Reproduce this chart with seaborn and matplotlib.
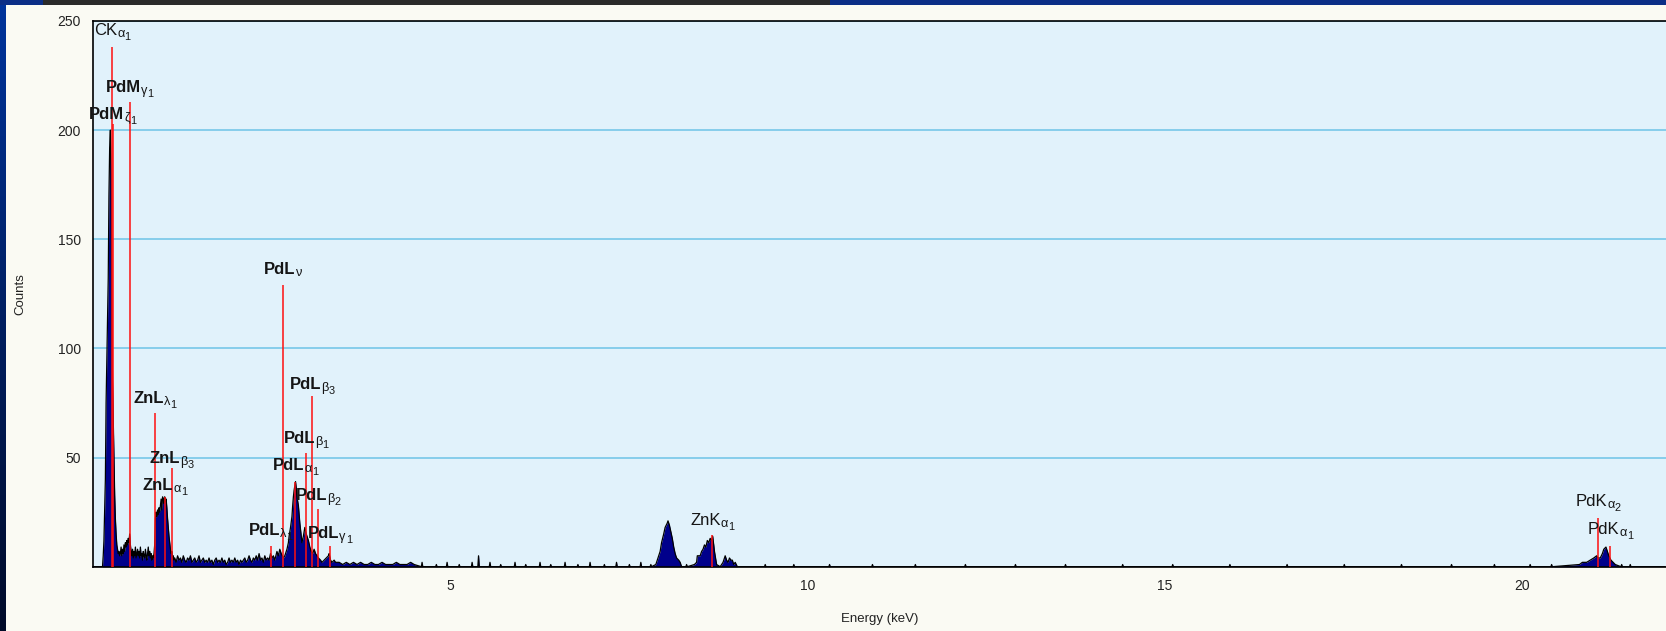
import numpy as np
import pandas as pd
import matplotlib
matplotlib.use("Agg")
import matplotlib.pyplot as plt
from matplotlib.patches import Rectangle
from matplotlib.transforms import offset_copy
from matplotlib.colors import LinearSegmentedColormap
import seaborn as sns

sns.set_style("white")
plt.rcParams["font.family"] = ["Liberation Sans", "DejaVu Sans"]

# ---------------- spectrum ----------------
energy_kev = [
    0.00, 0.14, 0.15, 0.16, 0.17, 0.18, 0.19, 0.20, 0.21, 0.22, 0.23, 0.24, 0.25, 0.26, 0.27,
    0.28, 0.29, 0.30, 0.31, 0.32, 0.33, 0.34, 0.35, 0.36, 0.37, 0.38,
    0.39, 0.40, 0.41, 0.42, 0.43, 0.44, 0.45, 0.46, 0.47, 0.48, 0.49, 0.50, 0.51, 0.52, 0.53,
    0.54, 0.55, 0.56, 0.57, 0.58, 0.59, 0.60, 0.61, 0.62, 0.63, 0.64, 0.65, 0.66, 0.67, 0.68,
    0.69, 0.70, 0.71, 0.72, 0.73, 0.74, 0.75, 0.76, 0.77, 0.78, 0.79, 0.80, 0.81, 0.82, 0.83,
    0.84, 0.85, 0.86,
    0.87, 0.88, 0.89, 0.90, 0.91, 0.92, 0.93, 0.94, 0.95, 0.96, 0.97, 0.98, 0.99, 1.00, 1.01,
    1.02, 1.03, 1.04, 1.05, 1.06, 1.07, 1.08, 1.09, 1.10, 1.11, 1.12, 1.13, 1.14,
    1.15, 1.17, 1.19, 1.21, 1.23, 1.25, 1.27, 1.29, 1.31, 1.33, 1.35, 1.37, 1.39, 1.41, 1.43,
    1.45, 1.47, 1.49, 1.51, 1.53, 1.55, 1.57, 1.59, 1.61, 1.63, 1.65, 1.67, 1.69, 1.71, 1.73,
    1.75, 1.77, 1.79, 1.81, 1.83, 1.85, 1.87, 1.89, 1.91, 1.93, 1.95, 1.97, 1.99, 2.01, 2.03,
    2.05, 2.07, 2.09, 2.11, 2.13, 2.15, 2.17, 2.19, 2.21, 2.23, 2.25, 2.27, 2.29, 2.31, 2.33,
    2.35, 2.37, 2.39, 2.41, 2.43, 2.45,
    2.47, 2.49, 2.51, 2.53, 2.55, 2.58, 2.60, 2.62, 2.64, 2.67, 2.69, 2.72, 2.74, 2.75, 2.77,
    2.79, 2.80, 2.81, 2.82, 2.84, 2.85, 2.86, 2.87, 2.88, 2.89, 2.90, 2.92, 2.93, 2.95, 2.97,
    2.99, 3.01, 3.02, 3.04, 3.06, 3.08, 3.10, 3.12, 3.14, 3.16, 3.19, 3.21, 3.24, 3.27, 3.30,
    3.31, 3.33, 3.35, 3.38, 3.40,
    3.45, 3.50, 3.55, 3.60, 3.65, 3.70, 3.75, 3.80, 3.85, 3.90, 3.95, 4.00, 4.05, 4.10, 4.15,
    4.20, 4.25, 4.30, 4.35, 4.40, 4.45, 4.50,
    4.60, 4.61, 4.62, 4.80, 4.81, 4.82, 4.95, 4.96, 4.97, 5.12, 5.13, 5.14, 5.30, 5.31, 5.32,
    5.39, 5.40, 5.41, 5.55, 5.56, 5.57, 5.70, 5.71, 5.72, 5.90, 5.91, 5.92, 6.05, 6.06, 6.07,
    6.25, 6.26, 6.27, 6.40, 6.41, 6.42, 6.60, 6.61, 6.62, 6.78, 6.79, 6.80, 6.95, 6.96, 6.97,
    7.15, 7.16, 7.17, 7.32, 7.33, 7.34, 7.50, 7.51, 7.52, 7.66, 7.67, 7.68, 7.80, 7.81, 7.82,
    7.88, 7.91, 7.94, 7.96, 7.99, 8.01, 8.04, 8.05, 8.07, 8.09, 8.11, 8.13, 8.15, 8.17, 8.20,
    8.22, 8.24, 8.30, 8.31, 8.32, 8.42, 8.45, 8.46, 8.50, 8.52, 8.54, 8.56, 8.58, 8.60, 8.62,
    8.64, 8.66, 8.675, 8.69, 8.70, 8.72, 8.73, 8.78, 8.82, 8.85, 8.87, 8.89, 8.91, 8.93, 8.95,
    8.97, 8.99, 9.02,
    9.40, 9.41, 9.42, 9.80, 9.81, 9.82, 10.30, 10.31, 10.32, 10.90, 10.91, 10.92,
    11.50, 11.51, 11.52, 12.20, 12.21, 12.22, 12.90, 12.91, 12.92, 13.60, 13.61, 13.62,
    14.40, 14.41, 14.42, 15.10, 15.11, 15.12, 15.90, 15.91, 15.92, 16.70, 16.71, 16.72,
    17.50, 17.51, 17.52, 18.30, 18.31, 18.32, 19.00, 19.01, 19.02, 19.60, 19.61, 19.62,
    20.10, 20.11, 20.12, 20.40, 20.41, 20.42,
    20.80, 20.84, 20.90, 20.95, 21.00, 21.04, 21.06, 21.09, 21.12, 21.14, 21.17, 21.19, 21.21,
    21.24, 21.27, 21.30, 21.38, 21.39, 21.40, 21.50, 21.51, 21.52, 22.00,
]
counts = [
    0, 0, 5, 12, 25, 40, 75, 95, 112, 132, 170, 192, 200, 180, 115,
    85, 68, 50, 33, 22, 15, 10, 8, 6, 7, 5,
    6, 9, 5, 8, 6, 10, 7, 11, 9, 12, 10, 13, 11, 15, 10,
    7, 5, 8, 4, 7, 5, 9, 4, 6, 8, 5, 7, 4, 9, 5,
    6, 3, 7, 5, 4, 8, 5, 3, 6, 9, 5, 7, 4, 6, 3,
    5, 4, 6,
    10, 22, 25, 23, 26, 24, 27, 25, 28, 31, 26, 32, 31, 29, 32,
    30, 31, 27, 22, 18, 14, 11, 8, 6, 7, 4, 5, 3,
    4, 2, 5, 3, 4, 2, 5, 3, 2, 4, 3, 5, 2, 3, 4,
    2, 3, 5, 2, 3, 4, 2, 3, 2, 4, 2, 3, 1, 3, 4,
    2, 3, 2, 4, 2, 3, 1, 2, 4, 2, 3, 2, 4, 2, 3,
    1, 3, 2, 3, 4, 2, 3, 5, 3, 2, 4, 3, 5, 3, 6,
    3, 4, 2, 5, 3, 4,
    3, 6, 4, 5, 3, 7, 5, 8, 6, 4, 5, 8, 11, 14, 18,
    23, 28, 32, 35, 39, 36, 32, 30, 28, 24, 20, 14, 11, 14, 18,
    15, 13, 12, 9, 7, 6, 8, 6, 5, 4, 3, 2, 3, 4, 5,
    6, 3, 2, 3, 2,
    2, 1, 2, 1, 2, 1, 2, 1, 1, 2, 1, 1, 2, 1, 1,
    1, 2, 1, 1, 1, 2, 1,
    0, 2, 0, 0, 1, 0, 0, 2, 0, 0, 1, 0, 0, 2, 0,
    0, 5, 0, 0, 2, 0, 0, 1, 0, 0, 2, 0, 0, 1, 0,
    0, 2, 0, 0, 1, 0, 0, 2, 0, 0, 1, 0, 0, 2, 0,
    0, 1, 0, 0, 2, 0, 0, 1, 0, 0, 2, 0, 0, 1, 0,
    1, 4, 7, 11, 15, 18, 20, 21, 19, 16, 13, 9, 6, 4, 3,
    2, 0, 0, 1, 0, 1, 2, 5, 5, 7, 8, 10, 9, 12, 11,
    13, 12, 14, 10, 7, 3, 1, 0, 2, 5, 3, 2, 4, 3, 3,
    1, 2, 0,
    0, 1, 0, 0, 1, 0, 0, 1, 0, 0, 1, 0,
    0, 1, 0, 0, 1, 0, 0, 1, 0, 0, 1, 0,
    0, 1, 0, 0, 1, 0, 0, 1, 0, 0, 1, 0,
    0, 1, 0, 0, 1, 0, 0, 1, 0, 0, 1, 0,
    0, 1, 0, 0, 1, 0,
    1, 2, 2, 3, 4, 5, 4, 4, 6, 8, 9, 7, 5,
    3, 2, 1, 0, 1, 0, 0, 1, 0, 0,
]

# ---------------- identified lines ----------------
label_main = ["CK", "PdM", "PdM", "ZnL", "ZnL", "ZnL", "PdL", "PdL", "PdL", "PdL",
              "PdL", "PdL", "PdL", "ZnK", "PdK", "PdK"]
label_greek = ["α", "ζ", "γ", "λ", "α", "β", "λ", "ν", "α", "β", "β", "β", "γ", "α", "α", "α"]
label_index = ["1", "1", "1", "1", "1", "3", "1", "", "1", "1", "3", "2", "1", "1", "2", "1"]
label_bold = [False, True, True, True, True, True, True, True, True, True,
              True, True, True, False, False, False]
line_energy = [0.277, 0.284, 0.52, 0.874, 1.012, 1.107, 2.49, 2.66, 2.838, 2.99,
               3.07, 3.16, 3.32, 8.67, 21.06, 21.23]
line_height = [238, 203, 213, 70.6, 32, 45, 9.5, 129, 39, 52,
               78, 26.5, 9.5, 14.3, 22.3, 9.5]
label_baseline = [243.5, 205.3, 217.6, 75.2, 35.3, 47.6, 14.6, 134.3, 44.5, 56.8,
                  81.4, 30.7, 13.1, 19.2, 27.6, 14.9]

x_ticks = [5, 10, 15, 20]
y_ticks = [50, 100, 150, 200, 250]

# ---------------- figure ----------------
W, H = 1666, 631
fig = plt.figure(figsize=(W / 100, H / 100), dpi=100, facecolor="#FAFAF3")

# window frame (left gradient strip + top strip)
gax = fig.add_axes([0, 0, 6 / W, 1])
grad = np.linspace(0, 1, 256).reshape(-1, 1)
cm = LinearSegmentedColormap.from_list("frame", ["#00349C", "#000A28"])
gax.imshow(grad, aspect="auto", cmap=cm, extent=[0, 1, 0, 1], origin="upper")
gax.set_axis_off()
fig.add_artist(Rectangle((0, 1 - 5 / H), 1, 5 / H, transform=fig.transFigure,
                         facecolor="#0B2E86", edgecolor="none"))
fig.add_artist(Rectangle((43 / W, 1 - 5 / H), (830 - 43) / W, 5 / H, transform=fig.transFigure,
                         facecolor="#2A2A2A", edgecolor="none"))

left, top_px, bot_px = 92.5, 21.0, 566.7
ax = fig.add_axes([left / W, 1 - bot_px / H, 1 - left / W, (bot_px - top_px) / H])
ax.set_facecolor("#E1F2FB")

df = pd.DataFrame({"Energy": energy_kev, "Counts": counts})
ax.fill_between(df["Energy"], 0, df["Counts"], color="#00008B", lw=0, zorder=2)
sns.lineplot(data=df, x="Energy", y="Counts", ax=ax, color="black", lw=0.9,
             zorder=3, sort=False, estimator=None)

ax.vlines(line_energy, 0, line_height, colors="#FF1010", lw=1.1, zorder=4)

ax.set_xlim(0, 22.01)
ax.set_ylim(0, 250)
ax.set_xticks(x_ticks)
ax.set_yticks(y_ticks)
ax.set_xticklabels([str(t) for t in x_ticks])
ax.set_yticklabels([str(t) for t in y_ticks])
ax.yaxis.grid(True, color="#86CDEB", lw=1.4)
ax.xaxis.grid(False)
ax.set_axisbelow(True)
ax.tick_params(axis="both", direction="out", length=6, width=1, colors="black",
               labelcolor="#222222", labelsize=10, pad=2.5)
for s in ["left", "bottom", "top"]:
    ax.spines[s].set_visible(True)
    ax.spines[s].set_color("black")
    ax.spines[s].set_linewidth(1.2)
ax.spines["right"].set_visible(False)

ax.set_xlabel("Energy (keV)", fontsize=9.5, color="#222222")
ax.set_ylabel("Counts", fontsize=9.5, color="#222222")
ax.xaxis.set_label_coords(0.5, -(613 - bot_px) / (bot_px - top_px))
ax.yaxis.set_label_coords((26 - left) / (W - left), 0.5)

# ---------------- composite line labels (main + greek subscript + index) ----------------
F_MAIN, F_GREEK, F_IDX = 12.0, 9.2, 7.8
renderer = fig.canvas.get_renderer()


def text_width(s, size, weight="normal"):
    if not s:
        return 0.0
    t = fig.text(0, 0, s, fontsize=size, fontweight=weight)
    w = t.get_window_extent(renderer=renderer).width
    t.remove()
    return w


for m, g, idx, bold, e, yb in zip(label_main, label_greek, label_index, label_bold,
                                  line_energy, label_baseline):
    wt = "bold" if bold else "normal"
    wm = text_width(m, F_MAIN, wt)
    wg = text_width(g, F_GREEK)
    wi = text_width(idx, F_IDX)
    x0 = -(wm + wg + wi) / 2.0
    parts = [(m, F_MAIN, wt, x0, 0.0), (g, F_GREEK, "normal", x0 + wm, -2.0),
             (idx, F_IDX, "normal", x0 + wm + wg, -5.0)]
    for s, size, w, dx, dy in parts:
        if not s:
            continue
        tr = offset_copy(ax.transData, fig=fig, x=dx, y=dy, units="dots")
        ax.text(e, yb, s, fontsize=size, fontweight=w, ha="left", va="baseline",
                color="#151515", transform=tr, zorder=5, clip_on=False)

fig.savefig("out.png", dpi=100, facecolor=fig.get_facecolor())
